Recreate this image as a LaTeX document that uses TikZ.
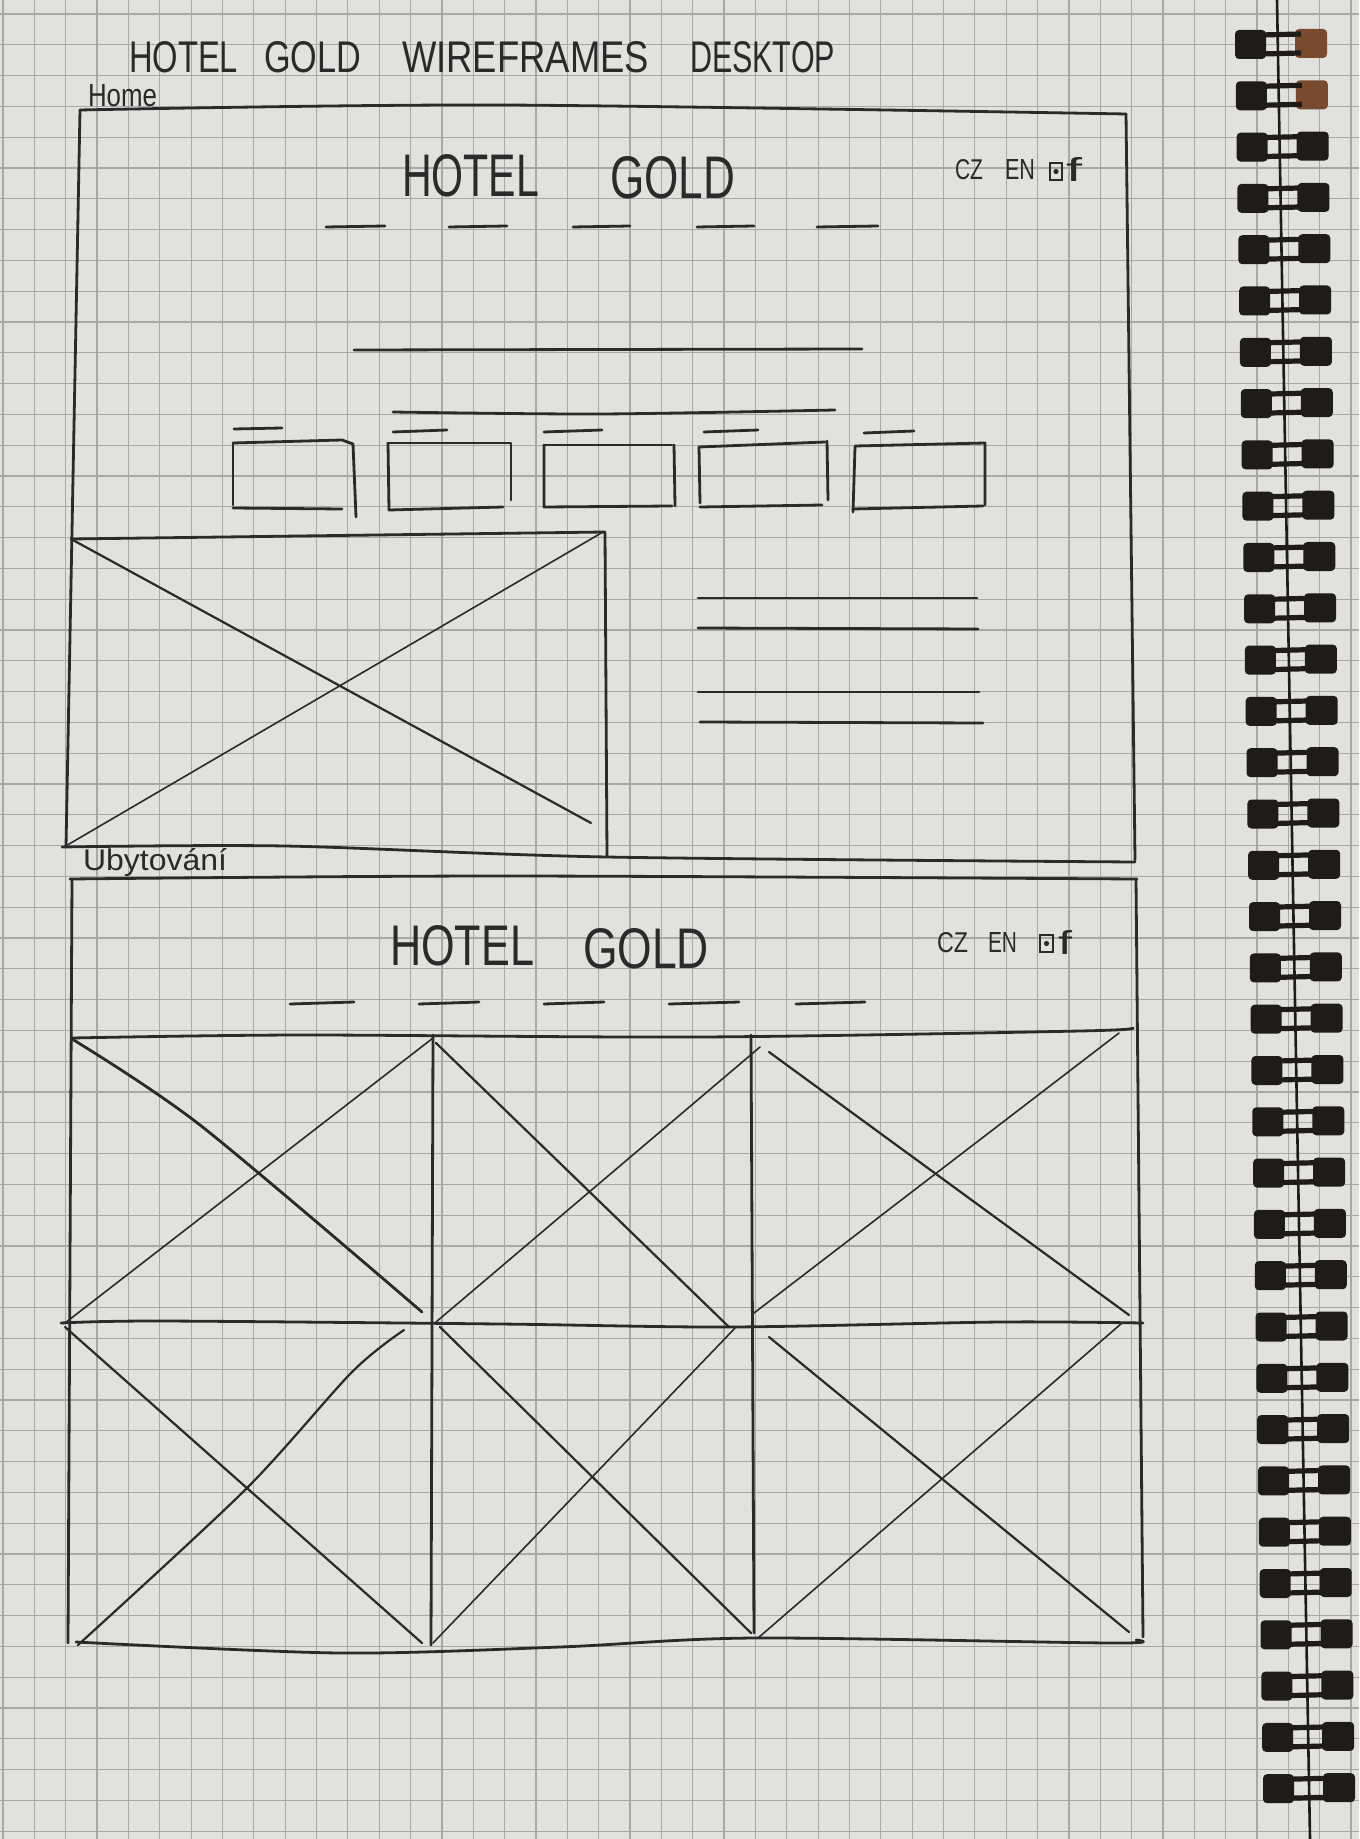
\documentclass[tikz,border=0pt]{standalone}
\usepackage{fontspec}
\setmainfont{Liberation Sans}
\usepackage{graphicx}
\definecolor{paper}{HTML}{E1E1DE}
\definecolor{gridc}{HTML}{A8A8A6}
\definecolor{ink}{HTML}{2A2A2A}
\definecolor{ringc}{HTML}{1F1B19}
\definecolor{ringbrown}{HTML}{7A4A2E}
\newcommand\hw[3]{\resizebox{#1pt}{#2pt}{#3}}
\begin{document}
\begin{tikzpicture}[x=0.5pt,y=-0.5pt,
  pen/.style={ink,line width=1.4pt,line cap=round,line join=round},
  mid pen/.style={ink,line width=1.1pt,line cap=round,line join=round},
  thin pen/.style={ink,line width=0.8pt,line cap=round},
  hand/.style={inner sep=0pt,outer sep=0pt,text=ink,anchor=base west}]
\fill[paper] (0,0) rectangle (1359,1839);
\useasboundingbox (0,0) rectangle (1359,1839);
% grid paper
\foreach \k in {0,...,43} \draw[gridc,line width=0.6pt] ({3+31.35*\k},0) -- ({3+31.35*\k},1839);
\foreach \k in {0,...,59} \draw[gridc,line width=0.6pt] (0,{14+30.8*\k}) -- (1359,{14+30.8*\k});

% title
\node[hand] (tHotel) at (129,73) {\hw{54.5}{15.5}{HOTEL}};
\node[hand] (tGold) at (264,73) {\hw{48.5}{15.5}{GOLD}};
\node[hand] (tWire) at (402,73) {\hw{123.5}{15.5}{WIREFRAMES}};
\node[hand] (tDesk) at (690,73) {\hw{72.5}{15.5}{DESKTOP}};
\node[hand] (home) at (88,107) {\hw{34.5}{11}{Home}};

% ===== Home page frame =====
\draw[pen] plot[smooth] coordinates {(80,110) (500,105) (1126,114)};
\draw[pen] (80,110) -- (66,847);
\draw[pen] (1126,114) -- (1135,860);
\draw[pen] plot[smooth] coordinates {(62,847) (285,846) (607,857) (1135,862)};

\node[hand] (h1a) at (402,197) {\hw{68.5}{21}{HOTEL}};
\node[hand] (h1b) at (610,199) {\hw{62.5}{21}{GOLD}};
\node[hand] (cz1) at (955,180) {\hw{14}{10}{CZ}};
\node[hand] (en1) at (1005,180) {\hw{15}{10}{EN}};
\draw[ink,line width=1pt] (1050,163) rectangle (1062,180);
\fill[ink] (1056,171.5) circle (1.3pt);
\node[hand] (fb1) at (1066,182) {\hw{8}{12}{f}};

% nav dashes
\foreach \a/\b in {326/385,449/507,573/630,697/754,817/878}
  \draw[pen] (\a,227) -- (\b,226);
% headline lines
\draw[pen] (354,350) -- (862,349);
\draw[pen] plot[smooth] coordinates {(393,412) (600,414) (835,410)};

% small boxes with dashes above
\draw[pen] (234,429) -- (282,428);
\draw[pen] (393,432) -- (447,430);
\draw[pen] (544,432) -- (602,430);
\draw[pen] (704,432) -- (758,430);
\draw[pen] (864,433) -- (914,431);

\draw[pen] (233,443) -- (342,440) -- (353,444) -- (356,517);
\draw[pen] (233,443) -- (233,505);
\draw[pen] (233,508) -- (342,509);

\draw[pen] (388,443) -- (511,443) -- (511,500);
\draw[pen] (388,443) -- (389,510) -- (503,507);

\draw[pen] (544,445) -- (672,445);
\draw[pen] (674,445) -- (675,506);
\draw[pen] (544,445) -- (544,507) -- (672,506);

\draw[pen] (699,447) -- (825,442);
\draw[pen] (827,441) -- (828,500);
\draw[pen] (699,447) -- (700,503);
\draw[pen] (700,507) -- (822,505);

\draw[pen] (855,446) -- (985,443) -- (985,505);
\draw[pen] (855,447) -- (853,512);
\draw[pen] (853,509) -- (983,506);

% hero image placeholder
\draw[pen] (71,539) -- (605,532);
\draw[pen] (605,533) -- (607,857);
\draw[mid pen] (71,539) -- (591,823);
\draw[thin pen] (64,847) -- (603,532);

% text lines on the right
\draw[pen] (698,598) -- (977,598);
\draw[pen] (698,628) -- (978,629);
\draw[pen] (698,692) -- (979,692);
\draw[pen] (700,722) -- (983,723);

% ===== Ubytovani page =====
\node[hand] (ubyt) at (83,870) {\hw{72}{11}{Ubytování}};
\draw[pen] plot[smooth] coordinates {(70,879) (500,876) (1137,879)};
\draw[pen] (72,879) -- (68,1643);
\draw[pen] (1136,879) -- (1143,1637);

\node[hand] (h2a) at (390,965) {\hw{72}{20}{HOTEL}};
\node[hand] (h2b) at (583,968) {\hw{63}{20}{GOLD}};
\node[hand] (cz2) at (937,952) {\hw{15.5}{10}{CZ}};
\node[hand] (en2) at (988,952) {\hw{14.5}{10}{EN}};
\draw[ink,line width=1pt] (1040,935) rectangle (1053,952);
\fill[ink] (1046.5,943.5) circle (1.3pt);
\node[hand] (fb2) at (1058,954) {\hw{7}{12}{f}};

\foreach \a/\b in {290/354,419/479,544/604,669/739,796/865}
  \draw[pen] (\a,1004) -- (\b,1002);

\draw[pen] plot[smooth] coordinates {(72,1038) (300,1035) (700,1037) (1080,1031) (1133,1028)};
\draw[pen] (433,1035) -- (431,1645);
\draw[pen] (751,1035) -- (754,1633);
\draw[pen] plot[smooth] coordinates {(61,1323) (160,1321) (500,1324) (730,1327) (1000,1322) (1143,1323)};
\draw[pen] plot[smooth] coordinates {(76,1642) (340,1653) (560,1647) (754,1638) (1111,1643) (1136,1640)};

% gallery diagonals, row 1
\draw[pen] plot[smooth] coordinates {(72,1039) (200,1125) (422,1312)};
\draw[thin pen] (65,1323) -- (433,1038);
\draw[mid pen] (436,1043) -- (729,1327);
\draw[thin pen] (436,1322) -- (760,1047);
\draw[mid pen] (769,1052) -- (1129,1315);
\draw[thin pen] (754,1313) -- (1119,1033);
% row 2
\draw[mid pen] (65,1327) -- (422,1643);
\draw[mid pen] plot[smooth] coordinates {(78,1645) (246,1489) (352,1372) (404,1330)};
\draw[mid pen] (440,1327) -- (751,1633);
\draw[thin pen] (433,1643) -- (736,1327);
\draw[mid pen] (769,1337) -- (1129,1632);
\draw[thin pen] (758,1638) -- (1122,1323);

% ===== spiral binding =====
\draw[ringc,line width=1.3pt] (1277,0) -- (1310,1839);
\foreach \i in {0,...,34} {
  \pgfmathsetmacro\yy{45+51.3*\i}
  \pgfmathsetmacro\xx{1235+(\yy-45)/1745*28}
  \ifnum\i<2 \def\rc{ringbrown}\else\def\rc{ringc}\fi
  \fill[ringc,rounded corners=2pt] (\xx,\yy-15) rectangle (\xx+31,\yy+14);
  \fill[\rc,rounded corners=2pt] (\xx+60,\yy-16) rectangle (\xx+92,\yy+13);
  \draw[ringc,line width=2.6pt] (\xx+26,\yy-10) -- (\xx+66,\yy-11);
  \draw[ringc,line width=2.6pt] (\xx+26,\yy+9) -- (\xx+66,\yy+8);
}
\end{tikzpicture}
\end{document}
